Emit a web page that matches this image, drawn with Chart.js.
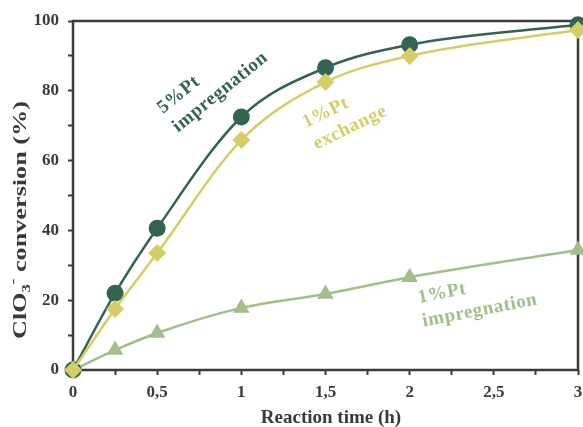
<!DOCTYPE html>
<html>
<head>
<meta charset="utf-8">
<script src="https://cdn.jsdelivr.net/npm/chart.js@4.4.1/dist/chart.umd.min.js"></script>
<style>
  html, body { margin: 0; padding: 0; background: #ffffff; }
  #wrap { width: 583px; height: 427px; }
</style>
</head>
<body>
<div id="wrap"><canvas id="c" width="583" height="427"></canvas></div>
<script>
// Reaction time (h) and ClO3- conversion (%) for the three catalysts
const times = [0, 0.25, 0.5, 1, 1.5, 2, 3];
const pt5Impregnation = [0, 22, 40.6, 72.5, 86.6, 93.2, 98.9];
const pt1Exchange = [0, 17.5, 33.5, 65.9, 82.5, 90, 97.4];
const pt1Impregnation = [0, 5.7, 10.6, 17.8, 21.8, 26.6, 34.4];

const xTickValues = [0, 0.5, 1, 1.5, 2, 2.5, 3];
const yTickValues = [0, 20, 40, 60, 80, 100];

const DARK = '#356352';
const YELLOW = '#d5cd66';
const LIGHT = '#a3bd8b';
const AXIS = '#3c3c3c';
const TEXT = '#3a3a3a';
const FONT = "'Liberation Serif', 'Times New Roman', serif";

function pts(ys) { return times.map((t, i) => ({ x: t, y: ys[i] })); }

function series(label, ys, color, shape, radius, order) {
  return {
    label, data: pts(ys), order,
    borderColor: color, backgroundColor: color,
    pointBackgroundColor: color, pointBorderColor: color,
    borderWidth: 2.5, pointRadius: radius,
    pointStyle: shape, pointBorderWidth: 0,
    cubicInterpolationMode: 'monotone', clip: false
  };
}

// Frame, axis titles and the rotated series labels
const decorations = {
  id: 'decorations',
  beforeDatasetsDraw(chart) {
    const { ctx, chartArea: a } = chart;
    ctx.save();
    ctx.strokeStyle = AXIS;
    ctx.lineWidth = 2.5;
    ctx.strokeRect(a.left, a.top, a.right - a.left, a.bottom - a.top);
    ctx.restore();
  },
  afterDatasetsDraw(chart) {
    const { ctx } = chart;

    // x title
    ctx.save();
    ctx.fillStyle = TEXT;
    ctx.font = 'bold 19px ' + FONT;
    ctx.textAlign = 'center';
    ctx.textBaseline = 'alphabetic';
    ctx.fillText('Reaction time (h)', 331, 423);
    ctx.restore();

    // y title (wide lettering) with subscript and superscript
    ctx.save();
    ctx.translate(26, 220);
    ctx.rotate(-Math.PI / 2);
    ctx.scale(1.38, 1);
    ctx.fillStyle = TEXT;
    const big = 'bold 19px ' + FONT, small = 'bold 12px ' + FONT;
    const parts = [
      { t: 'ClO', f: big, dy: 0 },
      { t: '3', f: small, dy: 4 },
      { t: '-', f: small, dy: -9 },
      { t: ' conversion (%)', f: big, dy: 0 }
    ];
    let total = 0;
    parts.forEach(p => { ctx.font = p.f; p.w = ctx.measureText(p.t).width; total += p.w; });
    let x = -total / 2;
    ctx.textBaseline = 'alphabetic';
    parts.forEach(p => { ctx.font = p.f; ctx.fillText(p.t, x, p.dy); x += p.w; });
    ctx.restore();

    // series labels
    const labels = [
      { lines: ['5%Pt', 'impregnation'], color: DARK, px: 163, py: 114, ang: -39 },
      { lines: ['1%Pt', 'exchange'], color: YELLOW, px: 306, py: 128, ang: -26 },
      { lines: ['1%Pt', 'impregnation'], color: LIGHT, px: 419, py: 303, ang: -11 }
    ];
    labels.forEach(l => {
      ctx.save();
      ctx.translate(l.px, l.py);
      ctx.rotate(l.ang * Math.PI / 180);
      ctx.fillStyle = l.color;
      ctx.font = 'bold 19px ' + FONT;
      ctx.letterSpacing = '0.6px';
      ctx.textAlign = 'left';
      ctx.textBaseline = 'alphabetic';
      l.lines.forEach((s, i) => ctx.fillText(s, 0, i * 24));
      ctx.restore();
    });
  }
};

new Chart(document.getElementById('c'), {
  type: 'line',
  data: {
    datasets: [
      series('1%Pt exchange', pt1Exchange, YELLOW, 'rectRot', 9, 0),
      series('5%Pt impregnation', pt5Impregnation, DARK, 'circle', 8.5, 1),
      series('1%Pt impregnation', pt1Impregnation, LIGHT, 'triangle', 9.5, 2)
    ]
  },
  options: {
    responsive: false,
    animation: false,
    events: [],
    layout: { autoPadding: false, padding: { top: 21, right: 5, left: 0, bottom: 0 } },
    plugins: { legend: { display: false }, tooltip: { enabled: false } },
    scales: {
      x: {
        type: 'linear', min: 0, max: 3,
        afterFit(s) { s.height = 57; s.paddingLeft = 0; s.paddingRight = 0; },
        afterBuildTicks(s) {
          const v = [];
          for (let i = 0; i <= 12; i++) v.push({ value: i * 0.25 });
          s.ticks = v;
        },
        border: { display: false },
        grid: { drawOnChartArea: false, tickLength: 5, tickWidth: 2, tickColor: AXIS },
        ticks: {
          autoSkip: false, maxRotation: 0, padding: 7, color: TEXT,
          font: { family: FONT, size: 17, weight: 'bold' },
          callback(v) {
            const m = xTickValues.find(t => Math.abs(t - v) < 1e-9);
            return m === undefined ? '' : String(m).replace('.', ',');
          }
        }
      },
      y: {
        min: 0, max: 100,
        afterFit(s) { s.width = 73; s.paddingTop = 0; s.paddingBottom = 0; },
        afterBuildTicks(s) {
          const v = [];
          for (let i = 0; i <= 10; i++) v.push({ value: i * 10 });
          s.ticks = v;
        },
        border: { display: false },
        grid: { drawOnChartArea: false, tickLength: 5, tickWidth: 2, tickColor: AXIS },
        ticks: {
          autoSkip: false, padding: 9, color: TEXT,
          font: { family: FONT, size: 17, weight: 'bold' },
          callback(v) { return yTickValues.includes(v) ? String(v) : ''; }
        }
      }
    }
  },
  plugins: [decorations]
});
</script>
</body>
</html>
